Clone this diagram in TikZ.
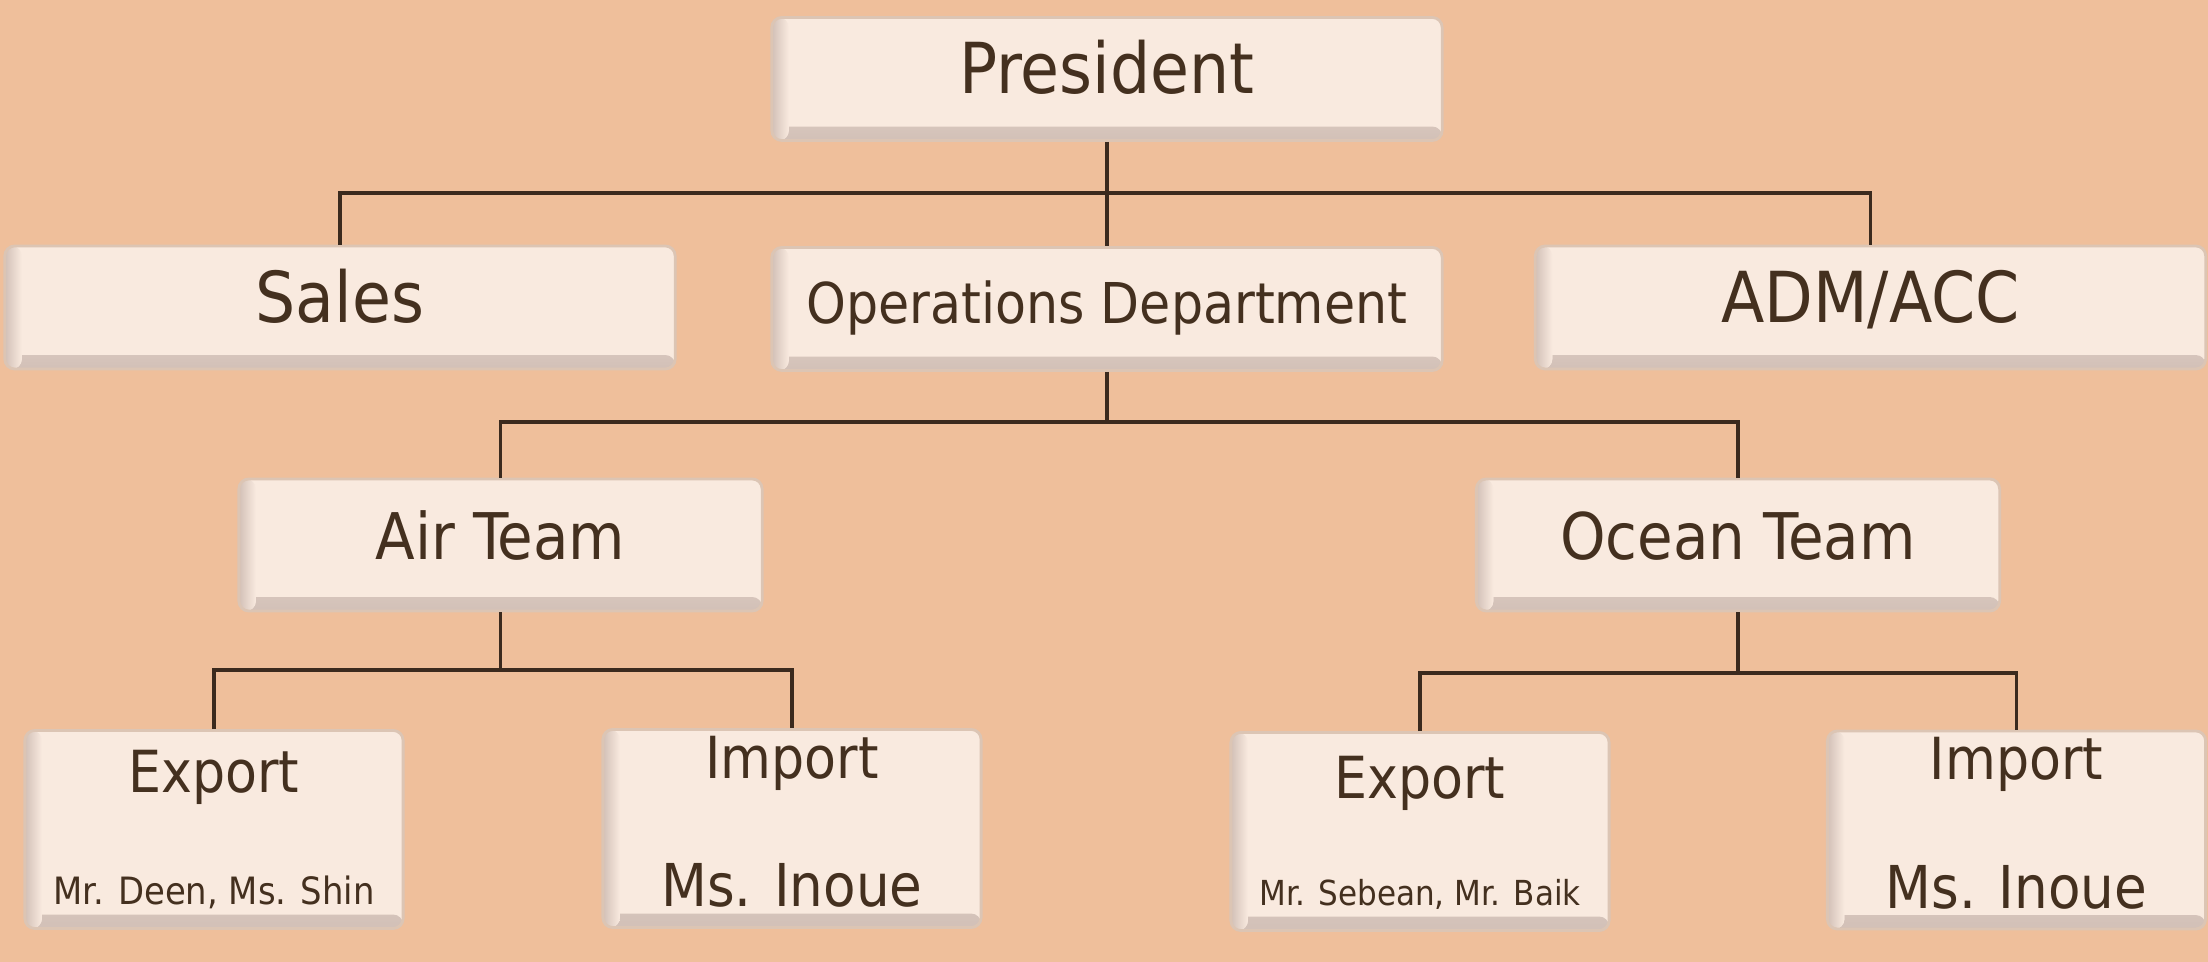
\documentclass[tikz,border=0pt]{standalone}
\usepackage{fontspec}
\setmainfont{DejaVu Sans Condensed}

\definecolor{bgpeach}{RGB}{239,191,155}
\definecolor{boxfill}{RGB}{249,234,223}
\definecolor{boxedge}{RGB}{220,197,180}
\definecolor{bevel}{RGB}{210,192,183}
\definecolor{inkbrown}{RGB}{68,48,31}
\definecolor{linebrown}{RGB}{59,42,30}

\tikzset{
  orgbox/.style={draw=boxedge, line width=0.8pt, fill=boxfill,
    rounded corners=0.1cm, inner sep=0pt, text=inkbrown,
    text height=0.92em, text depth=0.07em,
    path picture={
      \fill[top color=boxfill, bottom color=bevel]
        (path picture bounding box.south west) rectangle
        ([yshift=0.14cm]path picture bounding box.south east);
      \fill[left color=bevel, right color=boxfill]
        (path picture bounding box.south west) rectangle
        ([xshift=0.17cm]path picture bounding box.north west);
    }},
  topbox/.style={orgbox, minimum width=6.7cm, minimum height=1.23cm,
    font=\fontsize{20}{24}\selectfont},
  teambox/.style={orgbox, minimum width=5.23cm, minimum height=1.32cm,
    font=\fontsize{18.3}{22}\selectfont},
  leafbox/.style={orgbox, minimum width=3.78cm, minimum height=1.98cm},
  leaftitle/.style={inner sep=0pt, anchor=base, text=inkbrown,
    font=\fontsize{16.5}{20}\selectfont},
  leafnames/.style={inner sep=0pt, anchor=base, text=inkbrown,
    font=\fontsize{9.8}{12}\selectfont},
  leafname/.style={inner sep=0pt, anchor=base, text=inkbrown,
    font=\fontsize{16.8}{20}\selectfont},
  link/.style={draw=linebrown, line width=1pt}
}

\begin{document}
\begin{tikzpicture}[x=0.01cm, y=-0.01cm]
  \fill[bgpeach] (0,0) rectangle (2208,962);
  \useasboundingbox (0,0) rectangle (2208,962);

  \node[topbox] (pres) at (1107,79) {President};
  \node[topbox] (sales) at (340,307.5) {Sales};
  \node[topbox, font=\fontsize{16}{20}\selectfont] (ops) at (1107,309) {Operations Department};
  \node[topbox] (adm) at (1870.5,307.5) {ADM/ACC};

  \node[teambox] (air) at (500.5,545) {Air Team};
  \node[teambox] (ocean) at (1738,545) {Ocean Team};

  \node[leafbox] (airexp) at (214,829.5) {};
  \node[leafbox] (airimp) at (792,828.5) {};
  \node[leafbox] (ocexp) at (1420,831.5) {};
  \node[leafbox] (ocimp) at (2016.5,830) {};

  \node[leaftitle] (airexptitle) at ([yshift=-0.63cm]airexp.north) {Export};
  \node[leafnames, font=\fontsize{10.7}{13}\selectfont] (airexpnames) at ([yshift=0.25cm]airexp.south) {Mr. Deen, Ms. Shin};
  \node[leaftitle] (airimptitle) at ([yshift=-0.50cm]airimp.north) {Import};
  \node[leafname] (airimpname) at ([yshift=0.22cm]airimp.south) {Ms. Inoue};
  \node[leaftitle] (ocexptitle) at ([yshift=-0.67cm]ocexp.north) {Export};
  \node[leafnames] (ocexpnames) at ([yshift=0.26cm]ocexp.south) {Mr. Sebean, Mr. Baik};
  \node[leaftitle] (ocimptitle) at ([yshift=-0.50cm]ocimp.north) {Import};
  \node[leafname] (ocimpname) at ([yshift=0.22cm]ocimp.south) {Ms. Inoue};

  \coordinate (presbus) at (1107,193);
  \coordinate (opsbus) at (1107,422);
  \coordinate (airbus) at (500.5,670);
  \coordinate (oceanbus) at (1738,673);

  \draw[link] (pres.south) -- (presbus);
  \draw[link] (sales.north) |- (presbus) -| (adm.north);
  \draw[link] (presbus) -- (ops.north);
  \draw[link] (ops.south) -- (opsbus);
  \draw[link] (air.north) |- (opsbus) -| (ocean.north);
  \draw[link] (air.south) -- (airbus);
  \draw[link] (airexp.north) |- (airbus) -| (airimp.north);
  \draw[link] (ocean.south) -- (oceanbus);
  \draw[link] (ocexp.north) |- (oceanbus) -| (ocimp.north);
\end{tikzpicture}
\end{document}
